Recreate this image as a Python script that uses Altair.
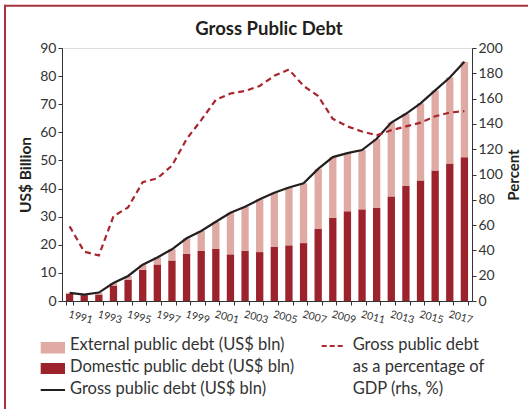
import altair as alt
import pandas as pd

years = list(range(1991, 2019))
domestic = [2.5, 2.1, 2.3, 5.5, 7.6, 11.1, 13.0, 14.4, 16.8, 17.9, 18.5, 16.6, 17.8, 17.4,
            19.2, 19.8, 20.6, 25.6, 29.6, 31.9, 32.6, 33.1, 37.2, 40.9, 42.9, 46.4, 48.9, 51.1]
external = [0.4, 0.2, 0.7, 0.9, 1.3, 1.8, 2.5, 4.0, 5.5, 7.0, 9.7, 14.8, 15.7, 18.8,
            19.3, 20.6, 21.3, 21.4, 21.6, 20.7, 21.1, 24.6, 26.3, 25.7, 27.4, 28.5, 30.6, 34.0]
gross = [2.9, 2.3, 3.0, 6.4, 8.9, 12.9, 15.5, 18.4, 22.3, 24.9, 28.2, 31.4, 33.5, 36.2,
         38.5, 40.4, 41.9, 47.0, 51.2, 52.6, 53.7, 57.7, 63.5, 66.6, 70.3, 74.9, 79.5, 85.1]
pct_gdp = [59, 39, 36, 67, 74, 94, 97, 107, 128, 143, 159, 164, 166, 170,
           178, 183, 170, 162, 144, 138, 134, 131, 135, 138, 141, 146, 149, 150]

series_names = ["External public debt (US$ bln)", "Domestic public debt (US$ bln)",
                "Gross public debt (US$ bln)",
                "Gross public debt\nas a percentage of\nGDP (rhs, %)"]
title_text = "Gross Public Debt"

DOM_C = "#9c232b"
EXT_C = "#dfa9a4"
LINE_C = "#231f20"
DASH_C = "#a8262d"
FRAME_C = "#a8333a"
TXT_C = "#333333"
FONT = "Lato"

bars = pd.DataFrame({
    "year": years * 2,
    "type": ["Domestic"] * len(years) + ["External"] * len(years),
    "value": domestic + external,
    "ord": [0] * len(years) + [1] * len(years),
})
lines = pd.DataFrame({"year": years, "gross": gross, "pct": pct_gdp})

x_enc = alt.X(
    "year:O",
    scale=alt.Scale(paddingInner=0.5, paddingOuter=0.27),
    axis=alt.Axis(
        title=None, labelAngle=15, labelAlign="left", labelBaseline="top",
        labelFontSize=10.5, labelColor=TXT_C, labelPadding=4, tickSize=4,
        tickBand="extent", tickColor=TXT_C, domainColor=TXT_C,
        labelExpr="datum.value % 2 == 1 ? datum.value : ''", grid=False,
    ),
)

left_axis = alt.Axis(
    values=list(range(0, 91, 10)), title="US$ Billion", orient="left",
    titleFontSize=15.5, titleFontWeight="bold", titleColor=LINE_C,
    titleX=-37, titleY=126.5, titleAngle=270, titleBaseline="middle", titleAlign="center",
    labelFontSize=14, labelColor=TXT_C, labelPadding=2, tickSize=4,
    tickColor=TXT_C, domainColor=TXT_C, grid=False,
)
right_axis = alt.Axis(
    values=list(range(0, 201, 20)), title="Percent", orient="right",
    titleFontSize=15, titleFontWeight="bold", titleColor=LINE_C,
    titleX=41, titleY=126.5, titleAngle=270, titleBaseline="middle", titleAlign="center",
    labelFontSize=14, labelColor=TXT_C, labelPadding=2, tickSize=4,
    tickColor=TXT_C, domainColor=TXT_C, grid=False,
)
left_scale = alt.Scale(domain=[0, 90], nice=False)

bar_layer = alt.Chart(bars).mark_bar().encode(
    x=x_enc,
    y=alt.Y("value:Q", stack="zero", scale=left_scale, axis=left_axis),
    color=alt.Color("type:N", scale=alt.Scale(domain=["External", "Domestic"], range=[EXT_C, DOM_C]), legend=None),
    order=alt.Order("ord:Q", sort="ascending"),
)
gross_layer = alt.Chart(lines).mark_line(color=LINE_C, strokeWidth=2.2).encode(
    x=x_enc,
    y=alt.Y("gross:Q", scale=left_scale, axis=left_axis),
)
left = alt.layer(bar_layer, gross_layer)

pct_layer = alt.Chart(lines).mark_line(color=DASH_C, strokeWidth=2.2, strokeDash=[6, 4]).encode(
    x=x_enc,
    y=alt.Y("pct:Q", scale=alt.Scale(domain=[0, 200], nice=False), axis=right_axis),
)

one = pd.DataFrame({"k": [0]})

def text_item(txt, x, y, size=16.5):
    return alt.Chart(pd.DataFrame({"t": [txt]})).mark_text(
        align="left", baseline="middle", fontSize=size,
        color=TXT_C, font=FONT, lineBreak="\n", lineHeight=22,
    ).encode(text="t:N", x=alt.value(x), y=alt.value(y))

title = alt.Chart(pd.DataFrame({"t": [title_text]})).mark_text(
    align="center", baseline="alphabetic", fontSize=18.5, fontWeight="bold", color=LINE_C, font=FONT,
).encode(text="t:N", x=alt.value(207), y=alt.value(-13))

sw_ext = alt.Chart(one).mark_rect(color=EXT_C).encode(
    x=alt.value(-21.3), x2=alt.value(3), y=alt.value(294), y2=alt.value(305.5))
sw_dom = alt.Chart(one).mark_rect(color=DOM_C).encode(
    x=alt.value(-21.3), x2=alt.value(3), y=alt.value(315), y2=alt.value(326))
sw_gross = alt.Chart(one).mark_rule(color=LINE_C, strokeWidth=2).encode(
    x=alt.value(-21.3), x2=alt.value(3), y=alt.value(342))
sw_pct = alt.Chart(one).mark_rule(color=DASH_C, strokeWidth=2, strokeDash=[5, 3]).encode(
    x=alt.value(259.7), x2=alt.value(283), y=alt.value(298))

frame_top = alt.Chart(one).mark_rect(color=FRAME_C).encode(
    x=alt.value(-58), x2=alt.value(466), y=alt.value(-43.3), y2=alt.value(-41.3))
frame_left = alt.Chart(one).mark_rect(color=FRAME_C).encode(
    x=alt.value(-58), x2=alt.value(-56), y=alt.value(-43.3), y2=alt.value(361))

chart = alt.layer(
    left, pct_layer, title,
    sw_ext, sw_dom, sw_gross, sw_pct,
    text_item(series_names[0], 8, 297),
    text_item(series_names[1], 8, 319),
    text_item(series_names[2], 8, 341),
    text_item(series_names[3], 290.7, 297),
    frame_top, frame_left,
).resolve_scale(y="independent").properties(
    width=410, height=253,
    autosize=alt.AutoSizeParams(type="none"),
    padding={"left": 62, "top": 48, "right": 56, "bottom": 108},
).configure_view(stroke=None).configure(font=FONT, background="white")

chart.save("out.html", embed_options={"renderer": "svg", "actions": False})
